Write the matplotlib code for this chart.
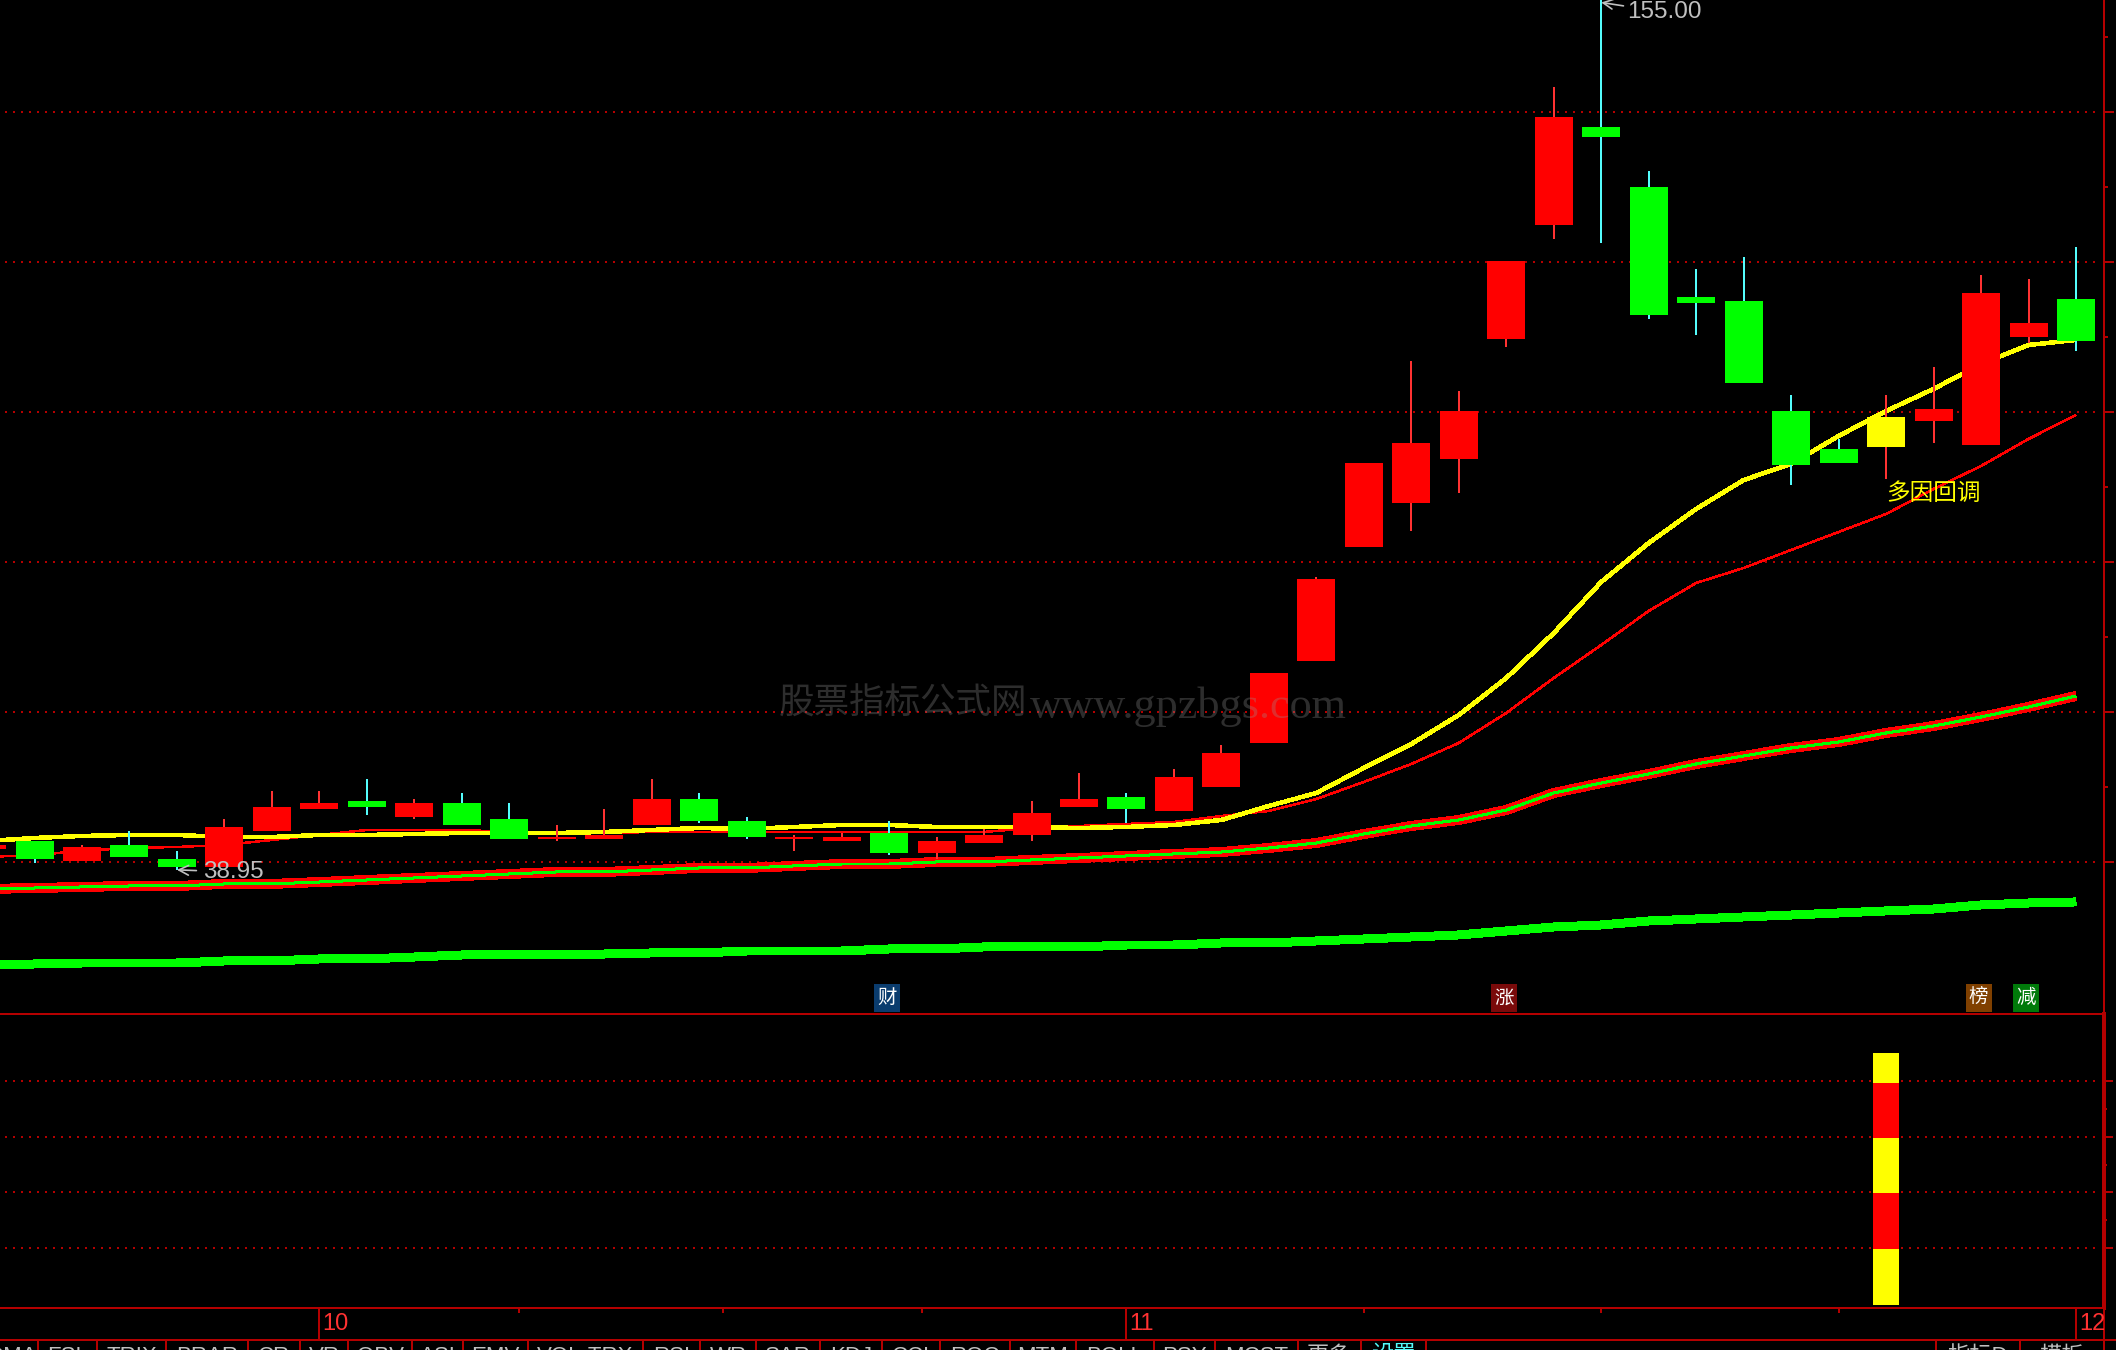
import numpy as np
from matplotlib import pyplot as plt

# candles, index -1 is the one cut off by the left edge
days = np.arange(-1, 44)
opens = [41.73, 42.8, 40.13, 42.27, 40.4, 39.33, 44.13, 47.07, 48.13, 46.0, 47.87, 45.73, 43.07, 43.07, 44.93, 48.4,
         45.47, 43.07, 42.8, 43.87, 41.2, 42.53, 43.6, 47.33, 48.67, 46.8, 50.0, 55.87, 66.8, 82.0, 87.87, 93.73,
         109.73, 124.93, 138.0, 130.0, 115.33, 114.8, 100.13, 95.07, 95.33, 98.8, 95.6, 110.0, 115.07]
closes = [42.27, 40.4, 42.0, 40.67, 39.33, 44.67, 47.33, 47.87, 47.33, 47.87, 44.93, 43.07, 43.33, 43.6, 48.4, 45.47,
          43.33, 43.33, 43.33, 41.2, 42.8, 43.6, 46.53, 48.4, 47.07, 51.33, 54.53, 65.2, 77.73, 93.2, 95.87, 100.13,
          120.13, 139.33, 136.67, 112.93, 114.53, 103.87, 92.93, 93.2, 99.33, 100.4, 115.87, 111.87, 109.47]
highs = [42.27, 42.8, 42.27, 44.13, 41.47, 45.73, 49.47, 49.47, 51.07, 48.4, 49.2, 47.87, 44.93, 47.07, 51.07, 49.2,
         46.0, 43.6, 43.87, 45.47, 43.33, 44.4, 48.13, 51.87, 49.2, 52.4, 55.6, 65.2, 78.0, 93.2, 106.8, 102.8,
         120.13, 143.33, 155.0, 132.13, 119.07, 120.67, 102.27, 96.4, 102.27, 106.0, 118.27, 117.73, 122.0]
lows = [41.73, 39.87, 40.13, 40.67, 38.95, 39.33, 44.13, 47.07, 46.27, 45.73, 44.93, 43.07, 42.8, 43.07, 44.93, 45.2,
        43.07, 41.47, 42.8, 40.93, 40.4, 42.53, 42.8, 47.33, 45.2, 46.8, 50.0, 55.87, 66.8, 82.0, 84.13, 89.2,
        108.67, 123.07, 122.53, 112.4, 110.27, 103.87, 90.27, 93.2, 91.07, 95.87, 95.6, 109.2, 108.13]
yellow_days = [39]

# moving averages
ma_yellow = [42.8, 43.2, 43.47, 43.6, 43.6, 43.33, 43.33, 43.6, 43.6, 43.73, 43.87, 43.87, 43.87, 44.0, 44.27, 44.53,
             44.4, 44.67, 44.93, 44.93, 44.67, 44.67, 44.67, 44.53, 44.67, 44.93, 45.6, 47.47, 49.2, 52.53, 55.73,
             59.6, 64.53, 70.53, 77.33, 82.53, 87.07, 90.93, 93.07, 96.8, 100.13, 103.07, 106.4, 108.93, 109.6]
ma_thin = [40.67, 40.93, 41.47, 41.87, 42.0, 42.27, 42.93, 43.6, 44.27, 44.27, 44.27, 44.0, 44.0, 43.87, 44.0, 44.0,
           44.0, 44.0, 44.0, 44.0, 44.0, 44.0, 44.53, 44.8, 45.07, 45.33, 46.13, 46.8, 48.4, 50.67, 53.07,
           55.87, 59.87, 64.53, 68.93, 73.47, 77.2, 79.2, 81.6, 84.0, 86.4, 89.73, 92.8, 96.4, 99.6]
ma_double = [36.4, 36.53, 36.67, 36.8, 36.8, 37.07, 37.07, 37.33, 37.6, 37.87, 38.13, 38.4, 38.67, 38.67, 38.93, 39.2,
             39.2, 39.47, 39.73, 39.73, 40.0, 40.0, 40.27, 40.53, 40.8, 41.07, 41.33, 41.87, 42.53, 43.73, 44.8,
             45.6, 46.93, 49.2, 50.53, 51.73, 53.07, 54.13, 55.2, 56.0, 57.2, 58.13, 59.33, 60.67, 62.13]
ma_green = [26.27, 26.4, 26.53, 26.53, 26.53, 26.8, 26.8, 27.07, 27.07, 27.33, 27.6, 27.6, 27.6, 27.73, 27.87, 27.87,
            28.13, 28.13, 28.13, 28.4, 28.4, 28.67, 28.67, 28.67, 28.93, 28.93, 29.2, 29.2, 29.47, 29.73, 30.0,
            30.27, 30.8, 31.33, 31.6, 32.13, 32.4, 32.67, 32.93, 33.2, 33.47, 33.73, 34.27, 34.53, 34.67]

price_grid = [40, 60, 80, 100, 120, 140]
price_minor = [50, 70, 90, 110, 130, 150]

# lower indicator: one stacked column
sub_day = 39
sub_edges = [-0.5, 19.6, 39.8, 59.5, 79.5, 90.2]
sub_colors = ['#FFFF00', '#FF0000', '#FFFF00', '#FF0000', '#FFFF00']
sub_grid = [20, 40, 60, 80]
sub_minor = [30, 50, 70]

# event boxes above the lower pane
event_days = [18, 31, 41, 42]
event_labels = ['财', '涨', '榜', '减']
event_colors = ['#0A3C6E', '#7A0A0A', '#804000', '#007A0A']

month_days = [6, 23, 43]
month_labels = ['10', '11', '12']
week_ticks = [10.2, 14.5, 18.7, 28, 33, 38]

tab_labels = ['DMA', 'FSL', 'TRIX', 'BRAR', 'CR', 'VR', 'OBV', 'ASI', 'EMV', 'VOL-TRX', 'RSI', 'WR', 'SAR', 'KDJ',
              'CCI', 'ROC', 'MTM', 'BOLL', 'PSY', 'MCST', '更多', '设置']
tab_edges = [-14, 38, 97, 166, 248, 300, 348, 412, 463, 528, 643, 700, 756, 820, 882, 940, 1010, 1076, 1154, 1215,
             1298, 1361, 1426]
right_tab_labels = ['指标D', '模板']
right_tab_edges = [1936, 2020, 2104]

W = 2116
H = 1350
BORDER = '#B40000'
px = 0.72  # one pixel in points at dpi 100

plt.rcParams['font.family'] = ['Liberation Sans', 'Noto Sans CJK SC', 'DejaVu Sans']
fig = plt.figure(figsize=(W / 100, H / 100), dpi=100, facecolor='black')


def pane(top, bottom, right=2104):
    a = fig.add_axes([0, 1 - bottom / H, right / W, (bottom - top) / H], facecolor='black')
    for s in a.spines.values():
        s.set_visible(False)
    return a


xlim = (-0.727, 43.59)
ax = pane(0, 1014)
ax.set_xlim(xlim)
ax.set_ylim(19.73, 154.93)
ax.set_xticks([])
ax.spines['right'].set_visible(True)
ax.spines['right'].set_color(BORDER)
ax.spines['right'].set_linewidth(2 * px)
ax.yaxis.tick_right()
ax.set_yticks(price_grid)
ax.set_yticks(price_minor, minor=True)
ax.tick_params(axis='y', which='major', colors=BORDER, length=10 * px, width=2 * px, labelright=False)
ax.tick_params(axis='y', which='minor', colors=BORDER, length=4 * px, width=2 * px)

ax.hlines(price_grid, -0.62, 43.42, color=BORDER, linewidth=2 * px, linestyle=(0, (1, 3)), zorder=1)

# lines go under the candles
ax.plot(days, ma_green, color='#00FF00', linewidth=8 * px, antialiased=False, solid_capstyle='butt', zorder=2)
ax.plot(days, ma_double, color='#FF0000', linewidth=9 * px, antialiased=False, solid_capstyle='butt', zorder=2)
ax.plot(days, ma_double, color='#00FF00', linewidth=2 * px, antialiased=False, solid_capstyle='butt', zorder=2.1)
ax.plot(days, ma_thin, color='#FF0000', linewidth=1.5 * px, antialiased=False, solid_capstyle='butt', zorder=2.2)
ax.plot(days, ma_yellow, color='#FFFF00', linewidth=3.5 * px, antialiased=False, solid_capstyle='butt', zorder=2.3)

for i in range(len(days)):
    up = closes[i] >= opens[i]
    wick = '#FF3232' if up else '#54FCFC'
    body = '#FF0000' if up else '#00FF00'
    if days[i] in yellow_days:
        body = '#FFFF00'
    ax.vlines(days[i], lows[i], highs[i], color=wick, linewidth=2 * px, antialiased=False, zorder=3)
    ax.bar(days[i], abs(closes[i] - opens[i]), bottom=min(opens[i], closes[i]), width=0.8, color=body,
           antialiased=False, zorder=4)

# high / low price labels
ax.annotate('155.00', xy=(33, 154.6), xytext=(19, -7), textcoords='offset points', color='#C0C0C0', fontsize=17.5,
            va='center', zorder=6, annotation_clip=False,
            arrowprops=dict(arrowstyle='->', color='#C0C0C0', linewidth=1.2, shrinkA=1, shrinkB=0))
ax.annotate('38.95', xy=(3, 38.95), xytext=(19, -1.5), textcoords='offset points', color='#C0C0C0', fontsize=17.5,
            va='center', zorder=6,
            arrowprops=dict(arrowstyle='->', color='#C0C0C0', linewidth=1.2, shrinkA=3, shrinkB=0))

ax.text(39, 89.07, '多因回调', color='#FFFF00', fontsize=17, family=['Noto Sans CJK SC'], va='center',
        ha='left', zorder=6)

for d, lab, c in zip(event_days, event_labels, event_colors):
    ax.text(d - 0.05, 21.87, lab, color='white', fontsize=14, family=['Noto Sans CJK SC'], ha='center', va='center',
            zorder=6, bbox=dict(boxstyle='square,pad=0.16', facecolor=c, edgecolor='none'))

# lower pane
ax2 = pane(1014, 1308)
ax2.set_xlim(xlim)
ax2.set_ylim(-1.6, 104.2)
ax2.set_xticks([])
ax2.spines['top'].set_visible(True)
ax2.spines['top'].set_color(BORDER)
ax2.spines['top'].set_linewidth(2 * px)
ax2.spines['right'].set_visible(True)
ax2.spines['right'].set_color(BORDER)
ax2.spines['right'].set_linewidth(4 * px)
ax2.yaxis.tick_right()
ax2.set_yticks(sub_grid)
ax2.set_yticks(sub_minor, minor=True)
ax2.tick_params(axis='y', which='major', colors=BORDER, length=9 * px, width=2 * px, labelright=False)
ax2.tick_params(axis='y', which='minor', colors=BORDER, length=3 * px, width=2 * px)
ax2.hlines(sub_grid, -0.62, 43.42, color=BORDER, linewidth=2 * px, linestyle=(0, (1, 3)), zorder=1)
for k in range(len(sub_colors)):
    ax2.bar(sub_day, sub_edges[k + 1] - sub_edges[k], bottom=sub_edges[k], width=0.55, color=sub_colors[k],
            antialiased=False, zorder=3)

# date strip
ax3 = pane(1308, 1340)
ax3.set_xlim(xlim)
ax3.set_ylim(0, 1)
ax3.set_yticks([])
ax3.spines['top'].set_visible(True)
ax3.spines['top'].set_color(BORDER)
ax3.spines['top'].set_linewidth(2 * px)
ax3.spines['right'].set_visible(True)
ax3.spines['right'].set_color(BORDER)
ax3.spines['right'].set_linewidth(2 * px)
ax3.xaxis.tick_top()
ax3.set_xticks(week_ticks)
ax3.tick_params(axis='x', direction='in', colors=BORDER, length=5 * px, width=2 * px, labeltop=False)
ax3.vlines(month_days, 0, 1, color=BORDER, linewidth=2 * px)
for d, lab in zip(month_days, month_labels):
    ax3.annotate(lab, xy=(d, 0.5), xytext=(2, 0), textcoords='offset points', color='#FF3232', fontsize=17,
                 va='center', ha='left')

# tab bar, cut by the bottom of the picture
ax4 = pane(1340, 1350, right=W)
ax4.set_xlim(0, W)
ax4.set_ylim(1350, 1340)
ax4.set_xticks([])
ax4.set_yticks([])
ax4.spines['top'].set_visible(True)
ax4.spines['top'].set_color(BORDER)
ax4.spines['top'].set_linewidth(2 * px)
ax4.vlines(tab_edges + right_tab_edges, 1340, 1350, color=BORDER, linewidth=2 * px)
for k in range(len(tab_labels)):
    c = '#54FCFC' if tab_labels[k] == '设置' else '#C0C0C0'
    ax4.text((tab_edges[k] + tab_edges[k + 1]) / 2, 1345.5, tab_labels[k], color=c, fontsize=16, ha='center',
             va='top', clip_on=True)
for k in range(len(right_tab_labels)):
    ax4.text((right_tab_edges[k] + right_tab_edges[k + 1]) / 2, 1345.5, right_tab_labels[k], color='#C0C0C0',
             fontsize=16, ha='center', va='top', clip_on=True)

# watermark
fig.text(779 / W, 1 - 704 / H, '股票指标公式网', color='#969696', alpha=0.3, fontsize=25.6,
         family=['Noto Sans CJK SC'], va='center', ha='left')
fig.text(1030 / W, 1 - 718 / H, 'www.gpzbgs.com', color='#969696', alpha=0.3, fontsize=31.9,
         family=['Liberation Serif'], va='baseline', ha='left')

plt.savefig('out.png', dpi=100, facecolor='black')
